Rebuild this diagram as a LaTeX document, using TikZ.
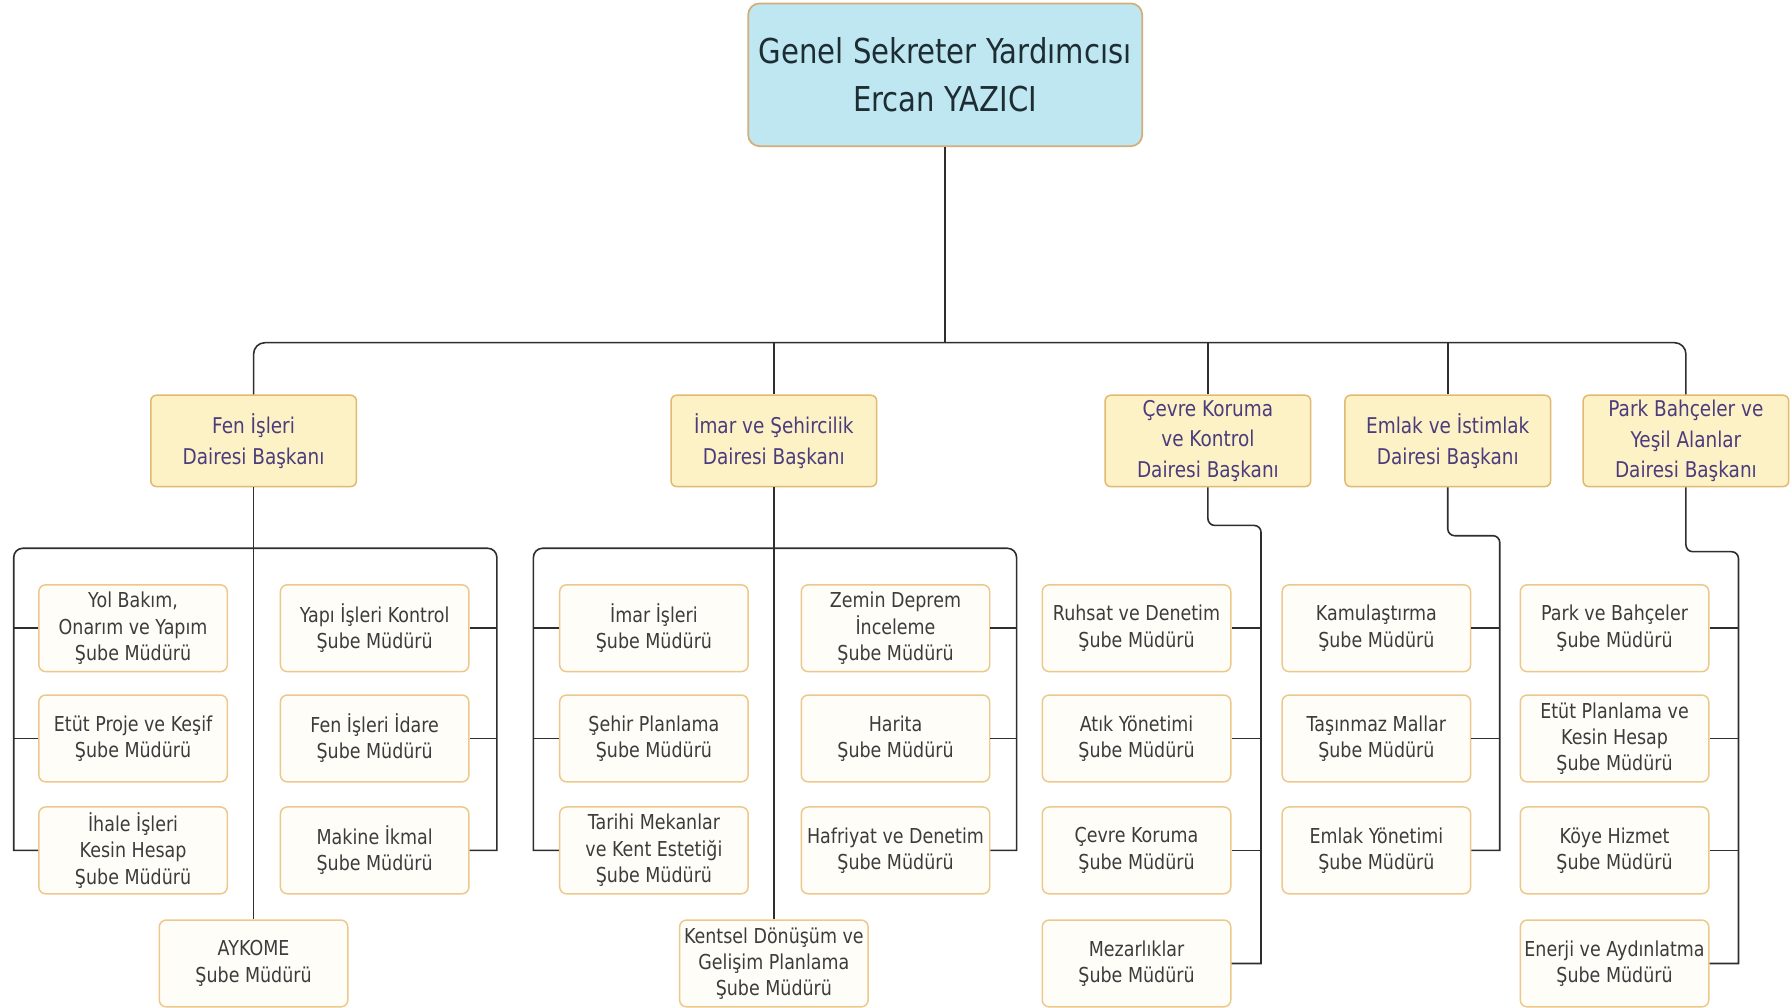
\documentclass[tikz,border=0pt]{standalone}
\usepackage{fontspec}
\setmainfont{DejaVu Sans}[FakeStretch=0.85]
\usetikzlibrary{calc}
\definecolor{topfill}{HTML}{BEE7F1}
\definecolor{topline}{HTML}{D2AE78}
\definecolor{depfill}{HTML}{FDF1C6}
\definecolor{depline}{HTML}{E2B970}
\definecolor{subfill}{HTML}{FFFDF7}
\definecolor{subline}{HTML}{EDC88C}
\definecolor{deptext}{HTML}{4B3C7C}
\definecolor{subtext}{HTML}{3C3C3C}
\definecolor{toptext}{HTML}{1E2D33}
\definecolor{wirecol}{HTML}{2E2E2E}
\begin{document}
\begin{tikzpicture}[x=1pt,y=-1pt,
	genbox/.style={draw=topline,line width=1.5pt,fill=topfill,rounded corners=10pt,minimum width=345pt,minimum height=125pt,align=center,text=toptext,font=\fontsize{30}{42}\selectfont},
	daire/.style={draw=depline,line width=1.3pt,fill=depfill,rounded corners=5pt,minimum width=180pt,minimum height=80pt,align=center,text=deptext,font=\fontsize{19}{27}\selectfont},
	sube/.style={draw=subline,line width=1.3pt,fill=subfill,rounded corners=6pt,minimum width=165pt,minimum height=76pt,inner sep=1pt,align=center,text=subtext,font=\fontsize{18}{23}\selectfont},
	wire/.style={draw=wirecol,line width=1.4pt}]
		\fill[white] (0,0) rectangle (1568,882);
		\useasboundingbox (0,0) rectangle (1568,882);
		\node[genbox] (gsy) at (827.5,65.5) {Genel Sekreter Yardımcısı\\Ercan YAZICI};
		%daire baskanlari
		\node[daire] (fen) at (222,386) {Fen İşleri\\Dairesi Başkanı};
		\node[daire] (imar) at (677.5,386) {İmar ve Şehircilik\\Dairesi Başkanı};
		\node[daire] (cevre) at (1057.5,386) {Çevre Koruma\\ve Kontrol\\Dairesi Başkanı};
		\node[daire] (emlak) at (1267.5,386) {Emlak ve İstimlak\\Dairesi Başkanı};
		\node[daire] (park) at (1476,386) {Park Bahçeler ve\\Yeşil Alanlar\\Dairesi Başkanı};
		%fen isleri
		\node[sube] (fen1) at (116.5,550) {Yol Bakım,\\Onarım ve Yapım\\Şube Müdürü};
		\node[sube] (fen2) at (116.5,646.5) {Etüt Proje ve Keşif\\Şube Müdürü};
		\node[sube] (fen3) at (116.5,744.5) {İhale İşleri\\Kesin Hesap\\Şube Müdürü};
		\node[sube] (fen4) at (328,550) {Yapı İşleri Kontrol\\Şube Müdürü};
		\node[sube] (fen5) at (328,646.5) {Fen İşleri İdare\\Şube Müdürü};
		\node[sube] (fen6) at (328,744.5) {Makine İkmal\\Şube Müdürü};
		\node[sube] (aykome) at (222,843.5) {AYKOME\\Şube Müdürü};
		%imar
		\node[sube] (imar1) at (572.5,550) {İmar İşleri\\Şube Müdürü};
		\node[sube] (imar2) at (572.5,646.5) {Şehir Planlama\\Şube Müdürü};
		\node[sube] (imar3) at (572.5,744.5) {Tarihi Mekanlar\\ve Kent Estetiği\\Şube Müdürü};
		\node[sube] (imar4) at (784,550) {Zemin Deprem\\İnceleme\\Şube Müdürü};
		\node[sube] (imar5) at (784,646.5) {Harita\\Şube Müdürü};
		\node[sube] (imar6) at (784,744.5) {Hafriyat ve Denetim\\Şube Müdürü};
		\node[sube] (kentsel) at (677.5,843.5) {Kentsel Dönüşüm ve\\Gelişim Planlama\\Şube Müdürü};
		%cevre
		\node[sube] (cevre1) at (995,550) {Ruhsat ve Denetim\\Şube Müdürü};
		\node[sube] (cevre2) at (995,646.5) {Atık Yönetimi\\Şube Müdürü};
		\node[sube] (cevre3) at (995,744.5) {Çevre Koruma\\Şube Müdürü};
		\node[sube] (cevre4) at (995,843.5) {Mezarlıklar\\Şube Müdürü};
		%emlak
		\node[sube] (emlak1) at (1205,550) {Kamulaştırma\\Şube Müdürü};
		\node[sube] (emlak2) at (1205,646.5) {Taşınmaz Mallar\\Şube Müdürü};
		\node[sube] (emlak3) at (1205,744.5) {Emlak Yönetimi\\Şube Müdürü};
		%park
		\node[sube] (park1) at (1413.5,550) {Park ve Bahçeler\\Şube Müdürü};
		\node[sube] (park2) at (1413.5,646.5) {Etüt Planlama ve\\Kesin Hesap\\Şube Müdürü};
		\node[sube] (park3) at (1413.5,744.5) {Köye Hizmet\\Şube Müdürü};
		\node[sube] (park4) at (1413.5,843.5) {Enerji ve Aydınlatma\\Şube Müdürü};
		%baglantilar
		\coordinate (bus) at (827.5,300);
		\draw[wire] (gsy.south) -- (bus);
		\draw[wire,rounded corners=10pt] (fen.north) |- (bus) -| (park.north);
		\draw[wire] (imar.north) -- (imar.north |- bus);
		\draw[wire] (cevre.north) -- (cevre.north |- bus);
		\draw[wire] (emlak.north) -- (emlak.north |- bus);
		\coordinate (fenbus) at (222,480);
		\coordinate (fenL) at (12,480);
		\coordinate (fenR) at (435,480);
		\draw[wire] (fen.south) -- (aykome.north);
		\draw[wire] (fenbus) [rounded corners=8pt] -- (fenL) [sharp corners] -- (fen3.west -| fenL) -- (fen3.west);
		\draw[wire] (fenbus) [rounded corners=8pt] -- (fenR) [sharp corners] -- (fen6.east -| fenR) -- (fen6.east);
		\draw[wire] (fen1.west) -- (fen1.west -| fenL);
		\draw[wire] (fen2.west) -- (fen2.west -| fenL);
		\draw[wire] (fen4.east) -- (fen4.east -| fenR);
		\draw[wire] (fen5.east) -- (fen5.east -| fenR);
		\coordinate (imarbus) at (677.5,480);
		\coordinate (imarL) at (467,480);
		\coordinate (imarR) at (890,480);
		\draw[wire] (imar.south) -- (kentsel.north);
		\draw[wire] (imarbus) [rounded corners=8pt] -- (imarL) [sharp corners] -- (imar3.west -| imarL) -- (imar3.west);
		\draw[wire] (imarbus) [rounded corners=8pt] -- (imarR) [sharp corners] -- (imar6.east -| imarR) -- (imar6.east);
		\draw[wire] (imar1.west) -- (imar1.west -| imarL);
		\draw[wire] (imar2.west) -- (imar2.west -| imarL);
		\draw[wire] (imar4.east) -- (imar4.east -| imarR);
		\draw[wire] (imar5.east) -- (imar5.east -| imarR);
		\coordinate (cevreX) at (1104,460);
		\draw[wire] (cevre.south) [rounded corners=6pt] |- (cevreX) [sharp corners] -- (cevre4.east -| cevreX) -- (cevre4.east);
		\draw[wire] (cevre1.east) -- (cevre1.east -| cevreX);
		\draw[wire] (cevre2.east) -- (cevre2.east -| cevreX);
		\draw[wire] (cevre3.east) -- (cevre3.east -| cevreX);
		\coordinate (emlakX) at (1313,469);
		\draw[wire] (emlak.south) [rounded corners=6pt] |- (emlakX) [sharp corners] -- (emlak3.east -| emlakX) -- (emlak3.east);
		\draw[wire] (emlak1.east) -- (emlak1.east -| emlakX);
		\draw[wire] (emlak2.east) -- (emlak2.east -| emlakX);
		\coordinate (parkX) at (1522,483);
		\draw[wire] (park.south) [rounded corners=6pt] |- (parkX) [sharp corners] -- (park4.east -| parkX) -- (park4.east);
		\draw[wire] (park1.east) -- (park1.east -| parkX);
		\draw[wire] (park2.east) -- (park2.east -| parkX);
		\draw[wire] (park3.east) -- (park3.east -| parkX);
	\end{tikzpicture}
\end{document}
